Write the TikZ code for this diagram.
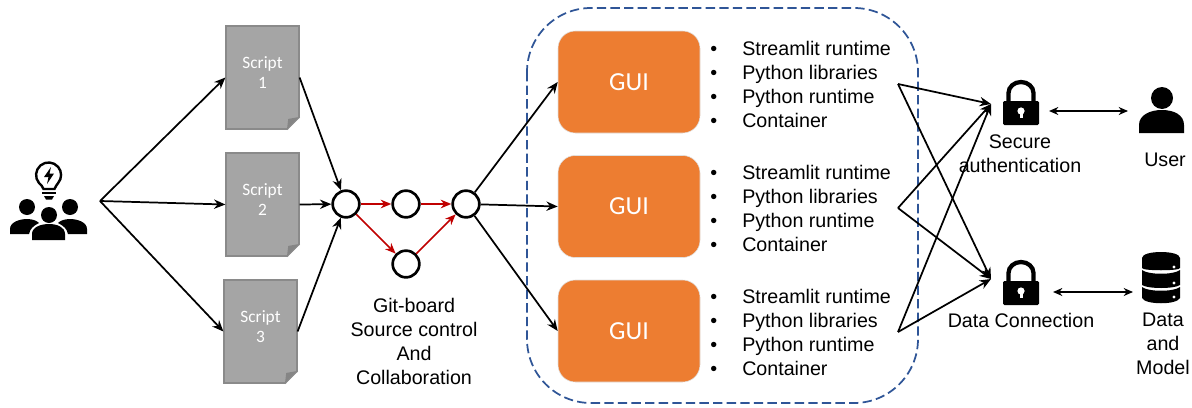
\documentclass[tikz,border=0pt]{standalone}
\usepackage{fontspec}
\setmainfont{Liberation Sans}
\newfontfamily\carl{Carlito}
\usetikzlibrary{arrows.meta}
\definecolor{docgray}{HTML}{A5A5A5}
\definecolor{docedge}{HTML}{8A8A8A}
\definecolor{foldgray}{HTML}{858585}
\definecolor{guiorange}{HTML}{ED7D31}
\definecolor{dashblue}{HTML}{2F5597}
\definecolor{gitred}{HTML}{C00000}
\tikzset{
  x=0.75pt,y=-0.75pt,
  arr/.style={-{Stealth[length=8.5pt,width=7pt]},line width=1.3pt,black},
  redarr/.style={-{Stealth[length=8pt,width=6.5pt]},line width=1.3pt,gitred},
  dbl/.style={{Stealth[length=7pt,width=6pt]}-{Stealth[length=7pt,width=6pt]},line width=1.1pt,black},
  doc/.style={fill=docgray,draw=docedge,line width=0.9pt,minimum width=54.75pt,minimum height=77.25pt,inner sep=0pt,text=white,align=center,font=\carl\fontsize{13}{15}\selectfont},
  gui/.style={fill=guiorange,draw=black!12,line width=0.4pt,rounded corners=13pt,minimum width=106.5pt,minimum height=76.5pt,text=white,font=\carl\fontsize{19.5}{22}\selectfont},
  git/.style={circle,draw=black,line width=2pt,fill=white,minimum size=20pt,inner sep=0pt},
  lbl/.style={font=\fontsize{14.75}{18}\selectfont,align=center,text=black,inner sep=0pt},
  lst/.style={font=\fontsize{14.75}{18}\selectfont,align=left,anchor=west,inner sep=0pt},
}
\newcommand{\foldcorner}[1]{%
  \fill[white] ([xshift=-9.5pt]#1.south east) -- ([xshift=1pt,yshift=-1pt]#1.south east) -- ([yshift=9.5pt]#1.south east) -- cycle;
  \fill[foldgray] ([xshift=-9.5pt]#1.south east) -- ([yshift=9.5pt]#1.south east) -- ([xshift=-8.5pt,yshift=8pt]#1.south east) -- cycle;
  \draw[docedge,line width=0.9pt] ([yshift=9.5pt]#1.south east) -- ([xshift=-9.5pt]#1.south east);
}
\newcommand{\lockicon}[2]{%
  \begin{scope}[shift={(#1,#2)}]
    \draw[black,line width=3.2pt] (-12.5,22) -- (-12.5,13) arc[start angle=180,end angle=0,x radius=12.5,y radius=-11] -- (12.5,22);
    \fill[black,rounded corners=1pt] (-18,21) rectangle (18,45);
    \fill[white] (0,31) circle[radius=3.6];
    \fill[white] (-1.5,32) rectangle (1.5,38);
  \end{scope}}
\begin{document}
\begin{tikzpicture}
\useasboundingbox (0,0) rectangle (1192,407);
\fill[white] (0,0) rectangle (1192,407);

% dashed container
\draw[dashblue,line width=1.3pt,dash pattern=on 7pt off 3.2pt,rounded corners=48pt] (527,8) rectangle (918,403);

% scripts
\node[doc] (s1) at (262.5,77.5) {Script\\1\\[-8pt]~};
\node[doc] (s2) at (262.5,204.5) {Script\\2\\[-8pt]~};
\node[doc] (s3) at (260.5,331.5) {Script\\3\\[-8pt]~};
\foldcorner{s1}\foldcorner{s2}\foldcorner{s3}

% git graph
\node[git] (c1) at (346,204) {};
\node[git] (c2) at (406,204) {};
\node[git] (c3) at (466,204) {};
\node[git] (c4) at (406,264) {};

% GUI
\node[gui] (g1) at (629,82) {GUI};
\node[gui] (g2) at (629,206.5) {GUI};
\node[gui] (g3) at (629,331) {GUI};

% lists
\foreach \n/\y in {1/84,2/208,3/332}{
  \node[lst] (b\n) at (710,\y+3) {•\\•\\•\\•};
  \node[lst] (l\n) at (742,\y) {Streamlit runtime\\Python libraries\\Python runtime\\Container};
}

% labels
\node[lbl] (gitlbl) at (414,341) {Git-board\\Source control\\And\\Collaboration};
\node[lbl] (seclbl) at (1020,154) {Secure\\\hspace*{0pt}authentication};
\node[lbl] (userlbl) at (1165,160) {User};
\node[lbl] (datalbl) at (1021,320) {Data Connection};
\node[lbl] (modellbl) at (1163,344) {Data\\and\\Model};

% free ends
\coordinate (hub) at (100,201);
\coordinate (h1) at (898,84);
\coordinate (h2) at (898,208);
\coordinate (h3) at (898,332);
\coordinate (t1) at (991,104);
\coordinate (t2) at (991,279);
\coordinate (lk1) at (1049,111);
\coordinate (us) at (1128,111);
\coordinate (lk2) at (1053,292);
\coordinate (db) at (1133,292);

% connectors
\draw[arr] (hub) -- (s1.west);
\draw[arr] (hub) -- (s2.west);
\draw[arr] (hub) -- (s3.west);
\draw[arr] (s1.east) -- (c1);
\draw[arr] (s2.east) -- (c1);
\draw[arr] (s3.east) -- (c1);
\draw[redarr] (c1) -- (c2);
\draw[redarr] (c2) -- (c3);
\draw[redarr] (c1) -- (c4);
\draw[redarr] (c4) -- (c3);
\draw[arr] (c3) -- (g1.west);
\draw[arr] (c3) -- (g2.west);
\draw[arr] (c3) -- (g3.west);
\foreach \h in {h1,h2,h3}{
  \draw[arr] (\h) -- (t1);
  \draw[arr] (\h) -- (t2);
}
\draw[dbl] (lk1) -- (us);
\draw[dbl] (lk2) -- (db);

% icons
\lockicon{1021}{80}
\lockicon{1021}{260}

% user icon
\fill[black] (1162,98) circle[radius=11];
\fill[black] (1139,133) -- (1139,125) .. controls (1139,115) and (1150,110) .. (1162,110) .. controls (1174,110) and (1184,115) .. (1184,125) -- (1184,133) -- cycle;

% database icon
\begin{scope}
  \fill[black] (1142,258) .. controls (1142,250) and (1180,250) .. (1180,258) -- (1180,268) .. controls (1180,271) and (1142,271) .. (1142,268) -- cycle;
  \fill[black] (1142,270) .. controls (1148,275) and (1174,275) .. (1180,270) -- (1180,285) .. controls (1174,289) and (1148,289) .. (1142,285) -- cycle;
  \fill[black] (1142,287) .. controls (1148,292) and (1174,292) .. (1180,287) -- (1180,298) .. controls (1177,305) and (1145,305) .. (1142,298) -- cycle;
  \fill[white] (1174,267) circle[radius=1.6];
  \fill[white] (1174,283) circle[radius=1.6];
  \fill[white] (1174,297) circle[radius=1.6];
\end{scope}

% people with bulb icon
\draw[black,line width=1.8pt] (43.5,189) .. controls (43.5,186) and (40,185) .. (39,183) arc[start angle=220,end angle=-40,x radius=12.5,y radius=-12.5] .. controls (58,185) and (54.5,186) .. (54.5,189) -- cycle;
\fill[black] (51,167) -- (44,177) -- (48.5,177) -- (47,184) -- (54,173.5) -- (49.5,173.5) -- cycle;
\draw[black,line width=1.3pt] (42,193) -- (56,193);
\fill[black] (44,196) -- (54,196) -- (52,199.5) -- (46,199.5) -- cycle;
\fill[black] (27,207) circle[radius=8];
\fill[black] (70,207) circle[radius=8];
\fill[black] (10,234) -- (10,229) .. controls (10,222) and (20,219) .. (27,219) .. controls (33,219) and (37,221) .. (39,223) .. controls (33,226) and (30,229) .. (29,234) -- cycle;
\fill[black] (87,234) -- (87,229) .. controls (87,222) and (77,219) .. (70,219) .. controls (64,219) and (60,221) .. (58,223) .. controls (64,226) and (67,229) .. (68,234) -- cycle;
\fill[black] (49,215) circle[radius=8];
\fill[black] (32,240) -- (32,234) .. controls (32,227) and (41,224) .. (49,224) .. controls (57,224) and (65,227) .. (65,234) -- (65,240) -- cycle;
\end{tikzpicture}
\end{document}
